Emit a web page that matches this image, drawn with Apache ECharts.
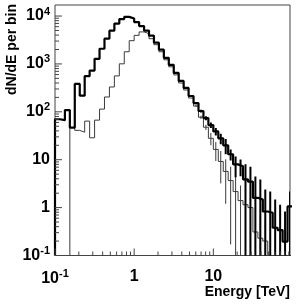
<!DOCTYPE html>
<html><head><meta charset="utf-8">
<script src="https://cdn.jsdelivr.net/npm/echarts@6/dist/echarts.min.js"></script>
<style>html,body{margin:0;padding:0;background:#fff}#c{width:299px;height:307px}</style>
</head><body><div id="c"></div>
<script>
// Log-spaced energy bin edges [TeV] (16 bins per decade)
const binEdges = [0.1,0.1155,0.1334,0.1540,0.1778,0.2054,0.2371,0.2738,0.3162,0.3652,0.4217,0.4870,0.5623,0.6494,0.7499,0.8660,
  1,1.155,1.334,1.540,1.778,2.054,2.371,2.738,3.162,3.652,4.217,4.870,5.623,6.494,7.499,8.660,
  10,11.55,13.34,15.40,17.78,20.54,23.71,27.38,31.62,36.52,42.17,48.70,56.23,64.94,74.99,86.60,100];
// thick histogram (counts per bin)
const thickCounts = [70,67,109,47,382,217,554,727,1280,2075,3365,4955,6950,8650,9620,8850,
  7480,6170,4960,3890,2775,1980,1340,957,650,442,315,214,152,104,74,53,
  39,28,20,13,8.0,7.3,3.9,3.5,1.6,1.47,0.83,0.78,0.38,0.34,0.195,1.06];
const thickErrors = [null,null,null,null,null,null,null,null,null,null,null,null,null,null,null,null,
  null,null,null,null,null,null,null,null,null,null,null,null,8,7,7,7,
  7,7,7,3.4,3.7,2.8,4.1,3.6,2.86,2.4,1.55,1.38,1.09,0.81,0.63,1.1];
// thin histogram
const thinCounts = [0,0,0,47,41,37.5,64,28.7,67,114,204,330,562,1005,1795,3055,
  3950,4660,4290,3365,2520,1795,1220,870,590,400,286,194,132,77,47.7,28,
  16.4,9.2,5.7,3.67,2.16,1.40,1.15,1.0,0.31,0.23,0.2,0,0,0,0,0];
const thinErrors = [null,null,null,null,null,null,null,null,null,null,null,null,null,null,null,null,
  null,null,null,null,null,null,null,null,null,null,null,null,6,6,6,8,
  7,6,4.5,3.5,2.2,1.5,1.3,1.2,0.5,0.4,0.35,null,null,null,null,null];

const xMin = 0.1, xMax = 93, yMin = 0.1, yMax = 17000;
const xMajorTicks = [0.1,1,10];
const xMinorTicks = [0.2,0.3,0.4,0.5,0.6,0.7,0.8,0.9,2,3,4,5,6,7,8,9,20,30,40,50,60,70,80,90];
const yMajorTicks = [0.1,1,10,100,1000,10000];
const yMinorTicks = [0.2,0.3,0.4,0.5,0.6,0.7,0.8,0.9,2,3,4,5,6,7,8,9,20,30,40,50,60,70,80,90,
  200,300,400,500,600,700,800,900,2000,3000,4000,5000,6000,7000,8000,9000];
const xTickLabels = {'0.1':'10{sup|-1}','1':'1','10':'10'};
const yTickLabels = {'0.1':'10{sup|-1}','1':'1','10':'10','100':'10{sup|2}','1000':'10{sup|3}','10000':'10{sup|4}'};

const FONT = '"Liberation Sans", Arial, Helvetica, sans-serif';

function stepData(counts) {
  const pts = [];
  let start = 0;
  while (start < counts.length && counts[start] === 0) start++;
  pts.push([binEdges[start], yMin]);
  for (let i = start; i < counts.length; i++) {
    const v = counts[i] > 0 ? counts[i] : yMin;
    pts.push([binEdges[i], v]);
  }
  const last = counts[counts.length - 1];
  pts.push([binEdges[counts.length], last > 0 ? last : yMin]);
  return pts;
}
function errData(counts, errs) {
  const out = [];
  for (let i = 0; i < counts.length; i++) {
    if (errs[i] == null) continue;
    out.push([Math.sqrt(binEdges[i] * binEdges[i + 1]), counts[i], errs[i]]);
  }
  return out;
}
function errSeries(counts, errs, color, width) {
  return {
    type: 'custom', data: errData(counts, errs), clip: true, z: 3,
    encode: { x: 0, y: 1 },
    renderItem: function (params, api) {
      const x = api.value(0), v = api.value(1), e = api.value(2);
      const lo = Math.max(v - e, yMin * 0.5);
      const hi = v + e;
      const p1 = api.coord([x, hi]);
      const p2 = api.coord([x, lo]);
      return { type: 'line', shape: { x1: p1[0], y1: p1[1], x2: p2[0], y2: p2[1] },
        style: { stroke: color, lineWidth: width } };
    }
  };
}
function tickSeries(values, len, isX) {
  return {
    type: 'custom', data: values.map(v => [v]), clip: false, z: 5, silent: true,
    encode: isX ? { x: 0 } : { y: 0 },
    renderItem: function (params, api) {
      const v = api.value(0);
      if (isX) {
        const p = api.coord([v, yMin]);
        return { type: 'line', shape: { x1: p[0], y1: p[1], x2: p[0], y2: p[1] - len },
          style: { stroke: '#444', lineWidth: 1 } };
      } else {
        const p = api.coord([xMin, v]);
        return { type: 'line', shape: { x1: p[0], y1: p[1], x2: p[0] + len, y2: p[1] },
          style: { stroke: '#444', lineWidth: 1 } };
      }
    }
  };
}
const richStyle = {
  sup: { fontSize: 11, fontWeight: 'bold', fontFamily: FONT, color: '#000', padding: [0, 0, 9, 0] }
};
const chart = echarts.init(document.getElementById('c'), null, { renderer: 'canvas' });
chart.setOption({
  animation: false,
  backgroundColor: '#fff',
  grid: { left: 55, right: 9, top: 5, bottom: 51.5, show: true, borderColor: '#444', borderWidth: 1, backgroundColor: 'transparent' },
  xAxis: {
    type: 'log', logBase: 10, min: xMin, max: xMax,
    axisLine: { show: false }, axisTick: { show: false }, splitLine: { show: false },
    axisLabel: {
      customValues: xMajorTicks, margin: 13, color: '#000', fontSize: 16, fontWeight: 'bold', fontFamily: FONT,
      formatter: v => xTickLabels[String(+v.toPrecision(3))] || '', rich: richStyle
    }
  },
  yAxis: {
    type: 'log', logBase: 10, min: yMin, max: yMax,
    axisLine: { show: false }, axisTick: { show: false }, splitLine: { show: false },
    axisLabel: {
      customValues: yMajorTicks, margin: 5, color: '#000', fontSize: 16, fontWeight: 'bold', fontFamily: FONT,
      formatter: v => yTickLabels[String(+v.toPrecision(3))] || '', rich: richStyle
    }
  },
  graphic: [
    { type: 'text', x: 12, y: 4, rotation: Math.PI / 2,
      style: { text: 'dN/dE per bin', font: 'bold 14px ' + FONT, fill: '#000', textAlign: 'right', textVerticalAlign: 'middle' } },
    { type: 'text', x: 290, y: 292,
      style: { text: 'Energy [TeV]', font: 'bold 14px ' + FONT, fill: '#000', textAlign: 'right', textVerticalAlign: 'middle' } }
  ],
  series: [
    { type: 'line', data: stepData(thinCounts), step: 'end', symbol: 'none', z: 2,
      lineStyle: { color: '#3a3a3a', width: 1 } },
    errSeries(thinCounts, thinErrors, '#3a3a3a', 1),
    { type: 'line', data: stepData(thickCounts), step: 'end', symbol: 'none', z: 4,
      lineStyle: { color: '#000', width: 2.2 } },
    errSeries(thickCounts, thickErrors, '#000', 2),
    tickSeries(xMajorTicks, 7, true),
    tickSeries(xMinorTicks, 4, true),
    tickSeries(yMajorTicks, 7, false),
    tickSeries(yMinorTicks, 4, false)
  ]
});
</script></body></html>
